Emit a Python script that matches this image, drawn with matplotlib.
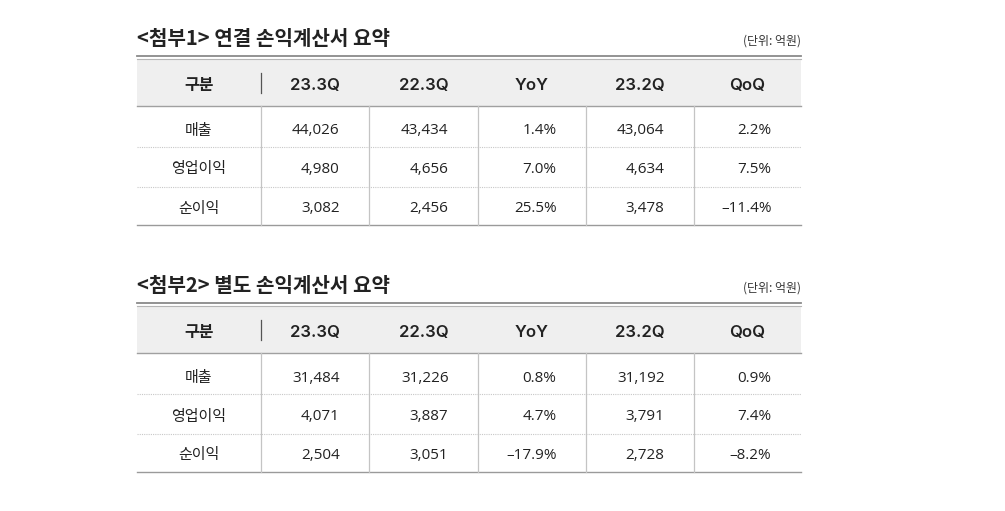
import matplotlib.pyplot as plt

plt.rcParams['font.family'] = ['Noto Sans CJK KR', 'DejaVu Sans']
LATIN = ['Open Sans', 'Noto Sans CJK KR', 'DejaVu Sans']
HEAD = ['Inter', 'Noto Sans CJK KR', 'DejaVu Sans']

# table data
titles = ['<첨부1> 연결 손익계산서 요약', '<첨부2> 별도 손익계산서 요약']
unit_label = '(단위: 억원)'
columns = ['구분', '23.3Q', '22.3Q', 'YoY', '23.2Q', 'QoQ']
categories = ['매출', '영업이익', '순이익']

cons_233 = [44026, 4980, 3082]
cons_223 = [43434, 4656, 2456]
cons_yoy = [1.4, 7.0, 25.5]
cons_232 = [43064, 4634, 3478]
cons_qoq = [2.2, 7.5, -11.4]

sep_233 = [31484, 4071, 2504]
sep_223 = [31226, 3887, 3051]
sep_yoy = [0.8, 4.7, -17.9]
sep_232 = [31192, 3791, 2728]
sep_qoq = [0.9, 7.4, -8.2]

tables = [
    [cons_233, cons_223, cons_yoy, cons_232, cons_qoq],
    [sep_233, sep_223, sep_yoy, sep_232, sep_qoq],
]
is_pct = [False, False, True, False, True]

TEXT = '#222222'
col_edges = [137, 261, 369, 478, 586, 694, 801]


def fmt(v, pct):
    if pct:
        s = f"{v:.1f}%"
    else:
        s = f"{v:,}"
    return s.replace('-', '\u2013')


fig = plt.figure(figsize=(10.05, 5.11), dpi=100)
ax = fig.add_axes([0, 0, 1, 1])
ax.set_xlim(0, 1005)
ax.set_ylim(511, 0)
ax.axis('off')

for t, (title, cols) in enumerate(zip(titles, tables)):
    off = t * 247
    left, right = col_edges[0], col_edges[-1]

    ax.text(left, 38.5 + off, title, fontsize=14.5, fontweight='bold',
            color=TEXT, ha='left', va='center')
    ax.text(right, 41.5 + off, unit_label, fontsize=8.6, color='#333333',
            ha='right', va='center')

    # double top rule and header band
    ax.plot([left, right], [56 + off, 56 + off], color='#8a8a8a', lw=1.3)
    ax.add_patch(plt.Rectangle((left, 59 + off), right - left, 47,
                               facecolor='#efefef', edgecolor='none'))
    ax.plot([left, right], [59.5 + off, 59.5 + off], color='#b5b5b5', lw=0.8)
    ax.plot([left, right], [106 + off, 106 + off], color='#a0a0a0', lw=1.0)
    ax.plot([261, 261], [73 + off, 93 + off], color='#555555', lw=0.9)

    for i, name in enumerate(columns):
        cx = (col_edges[i] + col_edges[i + 1]) / 2
        if i == 0:
            ax.text(cx, 85 + off, name, fontsize=11.5, fontweight='bold',
                    color=TEXT, ha='center', va='center')
        else:
            ax.text(cx, 90 + off, name, fontsize=12, fontweight='semibold',
                    family=HEAD, color=TEXT, ha='center', va='baseline')

    row_lines = [106, 147.5, 187, 225]
    for y in row_lines[1:-1]:
        ax.plot([left, right], [y + off, y + off], color='#c8c8c8', lw=0.8,
                linestyle=(0, (1, 1)))
    ax.plot([left, right], [225 + off, 225 + off], color='#9a9a9a', lw=1.0)
    for x in col_edges[1:-1]:
        ax.plot([x, x], [106 + off, 225 + off], color='#c4c4c4', lw=0.9)

    label_y = [131, 169.5, 208.5]
    base_y = [134.5, 173, 212]
    for r, cat in enumerate(categories):
        ax.text(199, label_y[r] + off, cat, fontsize=10.8, color=TEXT,
                ha='center', va='center')
        for c, series in enumerate(cols):
            ax.text(col_edges[c + 2] - 29.5, base_y[r] + off,
                    fmt(series[r], is_pct[c]), fontsize=11, family=LATIN,
                    color=TEXT, ha='right', va='baseline')

fig.savefig('out.png', dpi=100)
